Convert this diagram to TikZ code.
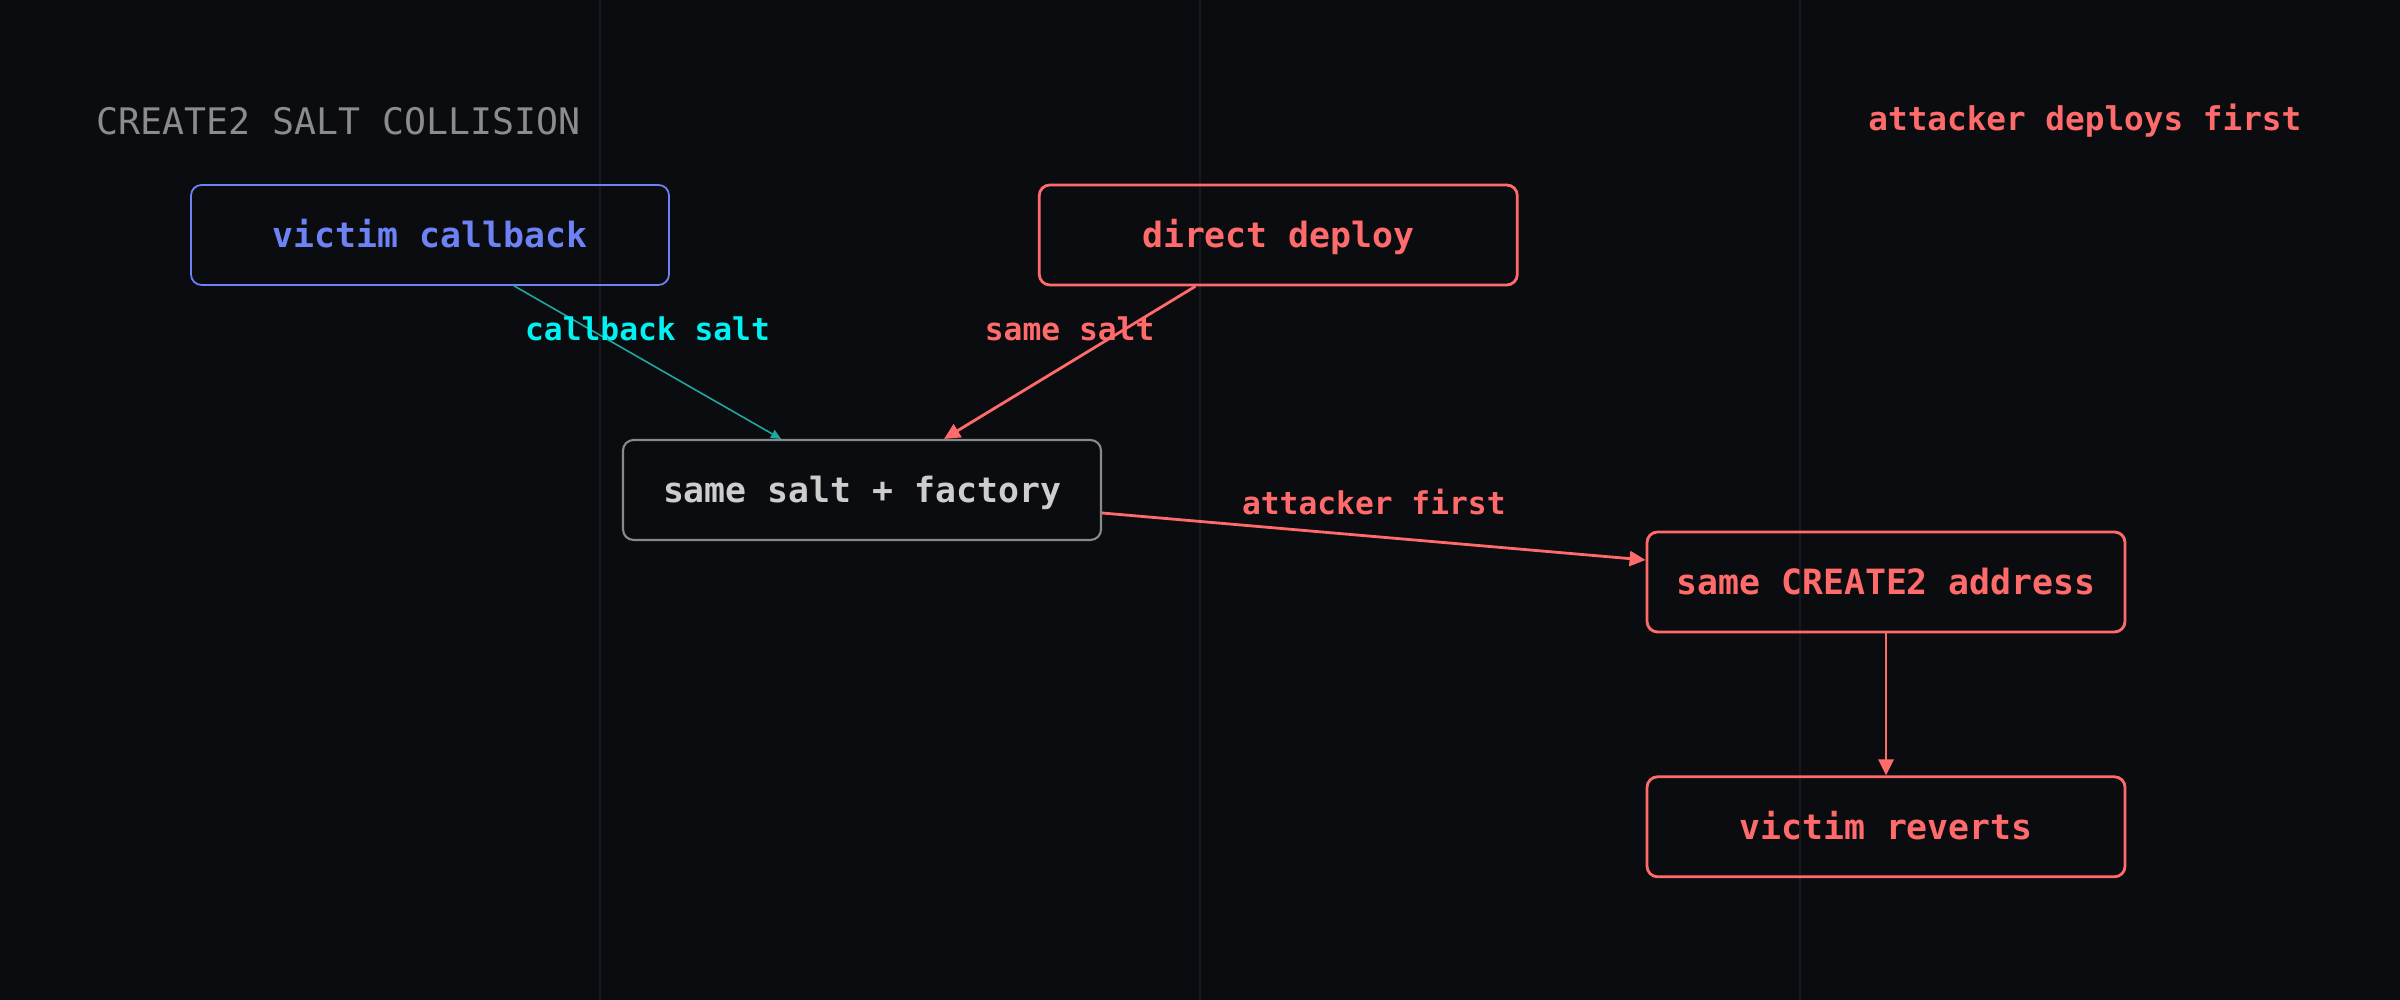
\documentclass[tikz,border=0pt]{standalone}
\usepackage{fontspec}
\usepackage{xcolor}
\usepackage{tikz}
\usetikzlibrary{arrows.meta,positioning,backgrounds,calc}
\setmonofont{DejaVu Sans Mono}
\definecolor{ckBg}{HTML}{0B0C10}
\definecolor{ckGrid}{HTML}{17191F}
\definecolor{ckTitle}{HTML}{8C8C8C}
\definecolor{ckBlue}{HTML}{6D82F5}
\definecolor{ckRed}{HTML}{FF6B6B}
\definecolor{ckGrayLine}{HTML}{8A8A8A}
\definecolor{ckGrayText}{HTML}{CDCDCD}
\definecolor{ckTeal}{HTML}{1FA8A2}
\definecolor{ckCyan}{HTML}{00F2F2}
\newcommand{\ckBoxFont}{\ttfamily\bfseries\fontsize{9.9}{12}\selectfont}
\newcommand{\ckLblFont}{\ttfamily\bfseries\fontsize{8.9}{11}\selectfont}
\tikzset{
  % Victim box (blue)
  vbox/.style={rectangle,rounded corners=3pt,
    minimum width=4.78cm,minimum height=1.0cm,inner sep=0pt,
    align=center,draw=ckBlue,line width=0.5pt,
    font=\ckBoxFont,text=ckBlue,text height=1.9ex,text depth=0.2ex},
  % Attacker box (red)
  abox/.style={rectangle,rounded corners=3pt,
    minimum width=4.78cm,minimum height=1.0cm,inner sep=0pt,
    align=center,draw=ckRed,line width=0.8pt,
    font=\ckBoxFont,text=ckRed,text height=1.9ex,text depth=0.2ex},
  % Shared box (gray)
  gbox/.style={rectangle,rounded corners=3pt,
    minimum width=4.78cm,minimum height=1.0cm,inner sep=0pt,
    align=center,draw=ckGrayLine,line width=0.6pt,
    font=\ckBoxFont,text=ckGrayText,text height=1.9ex,text depth=0.2ex},
  % Arrows
  arr/.style={-{Triangle[length=0.16cm,width=0.15cm]},line width=0.8pt,color=ckRed},
  arrt/.style={-{Triangle[length=0.1cm,width=0.09cm]},line width=0.45pt,color=ckTeal},
  lbl/.style={font=\ckLblFont,text=ckRed,yshift=0.34cm,inner sep=0pt},
  gridln/.style={line width=0.5pt,color=ckGrid},
}
\begin{document}
\begin{tikzpicture}
  \fill[ckBg] (0,0) rectangle (24,10);
  \useasboundingbox (0,0) rectangle (24,10);
  \foreach \gx in {6,12,18}
    \draw[gridln] (\gx,0) -- (\gx,10);

  \node[anchor=west,inner sep=0pt,text=ckTitle,
    font=\ttfamily\fontsize{10.4}{12}\selectfont] (title) at (0.96,8.79)
    {CREATE2 SALT COLLISION};
  \node[anchor=east,inner sep=0pt,text=ckRed,
    font=\ttfamily\bfseries\fontsize{9.3}{11}\selectfont] (note) at (23.02,8.79)
    {attacker deploys first};

  \node[vbox] (victim) at (4.30,7.65) {victim callback};
  \node[abox,right=3.68cm of victim] (direct) {direct deploy};
  \node[gbox] (salt) at (8.62,5.10) {same salt + factory};
  \node[abox] (addr) at (18.86,4.18) {same CREATE2 address};
  \node[abox,below=1.42cm of addr] (revert) {victim reverts};

  \draw[arrt] ([xshift=0.84cm]victim.south) --
    node[lbl,text=ckCyan] {callback salt} ([xshift=-0.81cm]salt.north);
  \draw[arr] ([xshift=-0.83cm]direct.south) --
    node[lbl] {same salt} ([xshift=0.82cm]salt.north);
  \draw[arr] ([yshift=-0.23cm]salt.east) --
    node[lbl] {attacker first} ([yshift=0.22cm]addr.west);
  \draw[arr] (addr) -- (revert);
\end{tikzpicture}
\end{document}
